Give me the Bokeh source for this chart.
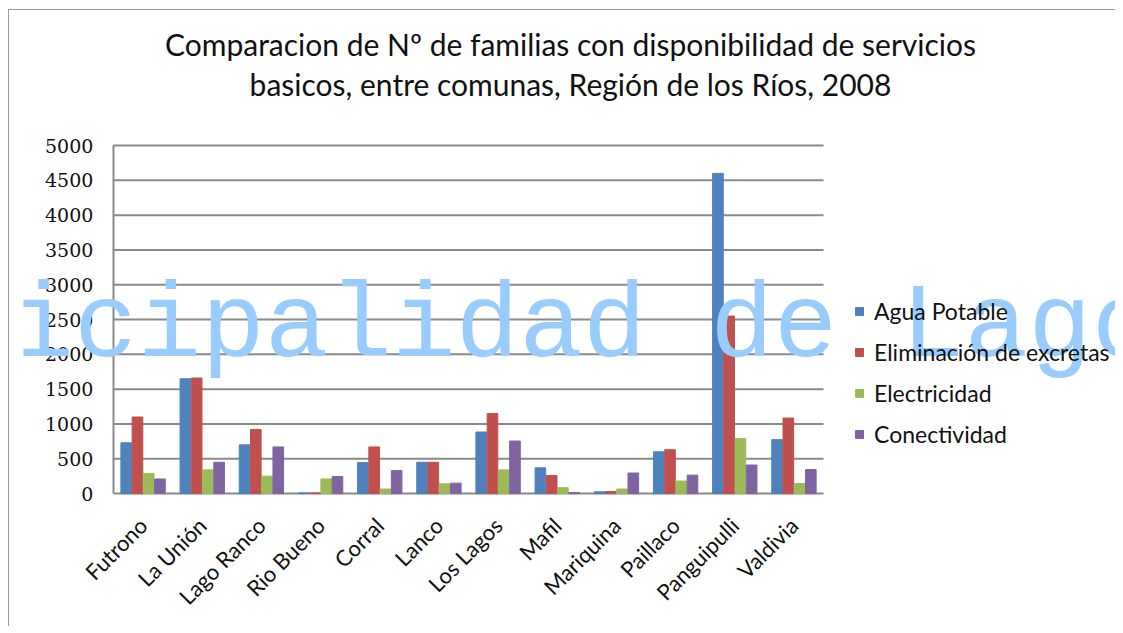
import math
from bokeh.plotting import figure
from bokeh.models import Range1d, Label, Legend, LegendItem, ColumnDataSource, FixedTicker
from bokeh.core.properties import value
from bokeh.embed import file_html
from bokeh.resources import INLINE

comunas = ["Futrono", "La Unión", "Lago Ranco", "Rio Bueno", "Corral", "Lanco",
           "Los Lagos", "Mafil", "Mariquina", "Paillaco", "Panguipulli", "Valdivia"]
agua_potable = [730, 1650, 700, 10, 445, 450, 885, 370, 25, 600, 4600, 775]
eliminacion_excretas = [1100, 1660, 920, 10, 670, 450, 1150, 260, 30, 630, 2550, 1085]
electricidad = [290, 340, 250, 210, 65, 140, 340, 85, 65, 180, 790, 145]
conectividad = [210, 450, 670, 245, 330, 150, 755, 15, 295, 265, 410, 345]
y_ticks = [0, 500, 1000, 1500, 2000, 2500, 3000, 3500, 4000, 4500, 5000]

title_lines = ["Comparacion de Nº de familias con disponibilidad de servicios",
               "basicos, entre comunas, Región de los Ríos, 2008"]
series_names = ["Agua Potable", "Eliminación de excretas", "Electricidad", "Conectividad"]
series_values = [agua_potable, eliminacion_excretas, electricidad, conectividad]
colors = ["#4F81BD", "#C0504D", "#9BBB59", "#8064A2"]
offsets = [-0.285, -0.095, 0.095, 0.285]

n = len(comunas)
centers = [i + 0.5 for i in range(n)]

p = figure(width=1107, height=617, x_range=Range1d(-1.521, 16.951), y_range=Range1d(-200, 6940),
           output_backend="svg", toolbar_location=None,
           min_border_left=14, min_border_right=0, min_border_bottom=120, min_border_top=0)
p.styles = {"border-top": "1px solid #9a9a9a", "border-left": "1px solid #9a9a9a",
            "margin-left": "8px", "margin-top": "9px"}
p.outline_line_color = None
p.xgrid.grid_line_color = None
p.ygrid.grid_line_color = None
p.yaxis.visible = False

# gridlines / walls from the tick list
p.segment(x0=[0] * len(y_ticks), x1=[n] * len(y_ticks), y0=y_ticks, y1=y_ticks,
          line_color="#8a8a8a", line_width=2)
p.segment(x0=[0], x1=[0], y0=[0], y1=[y_ticks[-1]], line_color="#8a8a8a", line_width=2)
p.text(x=[-0.34] * len(y_ticks), y=y_ticks, text=[str(t) for t in y_ticks],
       text_align="right", text_baseline="middle", text_font=value("DejaVu Serif"),
       text_font_size="19px", text_color="#111111")

items = []
for name, vals, c, off in zip(series_names, series_values, colors, offsets):
    src = ColumnDataSource(dict(x=[cx + off for cx in centers], top=vals))
    r = p.vbar(x="x", top="top", width=0.18, source=src, fill_color=c, line_color=c)
    items.append(LegendItem(label=name, renderers=[r]))

legend = Legend(items=items, location=(831, 59), border_line_color=None,
                background_fill_alpha=0, label_text_font="Lato", label_text_font_size="23px",
                label_text_color="#111111", glyph_width=10, glyph_height=10, spacing=13,
                label_standoff=10, padding=0, margin=0)
p.add_layout(legend, "center")

for line, ty in zip(title_lines, [464, 424]):
    p.add_layout(Label(x=547, y=ty, x_units="screen", y_units="screen", text=line,
                       text_font="Lato", text_font_size="30px", text_color="#111111",
                       text_align="center", text_baseline="middle"))

p.xaxis.ticker = FixedTicker(ticks=centers)
p.xaxis.major_label_overrides = {c: name for c, name in zip(centers, comunas)}
p.xaxis.major_label_orientation = math.pi / 4
p.xaxis.major_label_text_font = "Lato"
p.xaxis.major_label_text_font_size = "22px"
p.xaxis.major_label_text_color = "#111111"
p.xaxis.major_tick_line_color = None
p.xaxis.minor_tick_line_color = None
p.xaxis.axis_line_color = None
p.xaxis.major_label_standoff = 8

wm = Label(x=-204, y=180, x_units="screen", y_units="screen", text="Municipalidad de Lago Ranco",
           text_font="Liberation Mono", text_font_size="106px", text_color="#99CCFF",
           text_baseline="alphabetic")
p.add_layout(wm)

open("out.html", "w").write(file_html(p, INLINE))
